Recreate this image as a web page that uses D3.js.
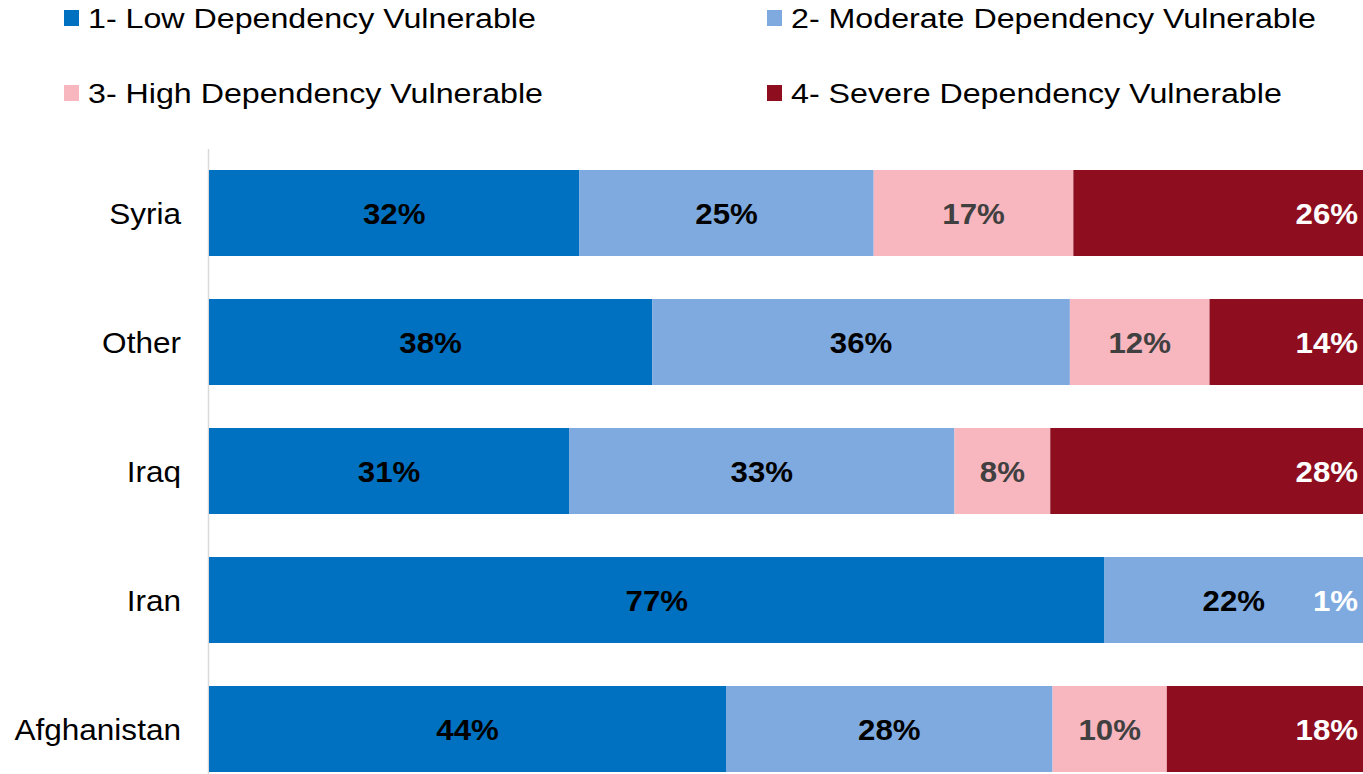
<!DOCTYPE html>
<html>
<head>
<meta charset="utf-8">
<script src="https://cdn.jsdelivr.net/npm/d3@7"></script>
<style>
    body { margin: 0; background: #fff; }
    svg { display: block; font-family: "Liberation Sans", Arial, sans-serif; }
</style>
</head>
<body>
<div id="chart"></div>
<script>
// data (segment widths in %, labels as printed)
const categories = ["Syria", "Other", "Iraq", "Iran", "Afghanistan"]
const seriesNames = [
    "1- Low Dependency Vulnerable",
    "2- Moderate Dependency Vulnerable",
    "3- High Dependency Vulnerable",
    "4- Severe Dependency Vulnerable"
]
const lowValues      = [32.1, 38.4, 31.2, 77.6, 44.8]
const moderateValues = [25.5, 36.2, 33.4, 22.4, 28.3]
const highValues     = [17.3, 12.1, 8.3, 0, 9.9]
const severeValues   = [25.1, 13.3, 27.1, 0, 17.0]
const lowLabels      = ["32%", "38%", "31%", "77%", "44%"]
const moderateLabels = ["25%", "36%", "33%", "22%", "28%"]
const highLabels     = ["17%", "12%", "8%", "", "10%"]
const severeLabels   = ["26%", "14%", "28%", "1%", "18%"]

const colors = ["#0070c0", "#7faadf", "#f8b6bf", "#8e0e20"]
const labelColors = ["#000000", "#000000", "#404040", "#ffffff"]

const width = 1363, height = 774

const svg = d3.select("#chart").append("svg")
    .attr("width", width)
    .attr("height", height)

const values = [lowValues, moderateValues, highValues, severeValues]
const labels = [lowLabels, moderateLabels, highLabels, severeLabels]

let rows = categories.map((c, i) => {
    let row = {category: c}
    seriesNames.forEach((s, k) => { row[s] = values[k][i] })
    return row
})
let stacked = d3.stack().keys(seriesNames)(rows)

let xScale = d3.scaleLinear()
    .domain([0, 100])
    .range([209, 1363])

let yScale = d3.scaleBand()
    .domain(categories)
    .range([150, 792])
    .paddingInner(43 / 129)
    .paddingOuter(20 / 129)

// the light category axis line
svg.append("line")
    .attr("x1", 208.5).attr("x2", 208.5)
    .attr("y1", 149).attr("y2", height)
    .attr("stroke", "#d9d9d9")
    .attr("stroke-width", 1.5)

// bars
let groups = svg.selectAll(".series")
    .data(stacked)
    .join("g")
    .attr("class", "series")
    .attr("fill", (d, k) => colors[k])

groups.selectAll("rect")
    .data(d => d)
    .join("rect")
    .attr("x", d => xScale(d[0]))
    .attr("y", d => yScale(d.data.category))
    .attr("width", d => xScale(d[1]) - xScale(d[0]))
    .attr("height", yScale.bandwidth())

// value labels: centered, last series sits at the right end
groups.each(function(series, k) {
    d3.select(this).selectAll("text")
        .data(series)
        .join("text")
        .attr("transform", d => {
            let x = k == 3 ? xScale(100) - 5 : (xScale(d[0]) + xScale(d[1])) / 2
            let y = yScale(d.data.category) + yScale.bandwidth() / 2
            return `translate(${x}, ${y}) scale(1.04, 1)`
        })
        .attr("dy", "0.36em")
        .attr("text-anchor", k == 3 ? "end" : "middle")
        .attr("fill", labelColors[k])
        .style("font-size", "30px")
        .style("font-weight", "bold")
        .text((d, i) => labels[k][i])
})

// category labels
svg.append("g")
    .selectAll("text")
    .data(categories)
    .join("text")
    .attr("transform", d => `translate(181, ${yScale(d) + yScale.bandwidth() / 2}) scale(1.07, 1)`)
    .attr("dy", "0.36em")
    .attr("text-anchor", "end")
    .attr("fill", "#000")
    .style("font-size", "29.5px")
    .text(d => d)

// legend, 2 x 2
let legendX = [64, 767]
let legendY = [18, 93]
let legend = svg.append("g")
    .selectAll("g")
    .data(seriesNames)
    .join("g")
    .attr("transform", (d, i) => `translate(${legendX[i % 2]}, ${legendY[Math.floor(i / 2)]})`)

legend.append("rect")
    .attr("x", 0).attr("y", -8)
    .attr("width", 15).attr("height", 16)
    .attr("fill", (d, i) => colors[i])

legend.append("text")
    .attr("transform", "translate(24, 0) scale(1.15, 1)")
    .attr("dy", "0.36em")
    .attr("fill", "#000")
    .style("font-size", "28px")
    .text(d => d)
</script>
</body>
</html>
